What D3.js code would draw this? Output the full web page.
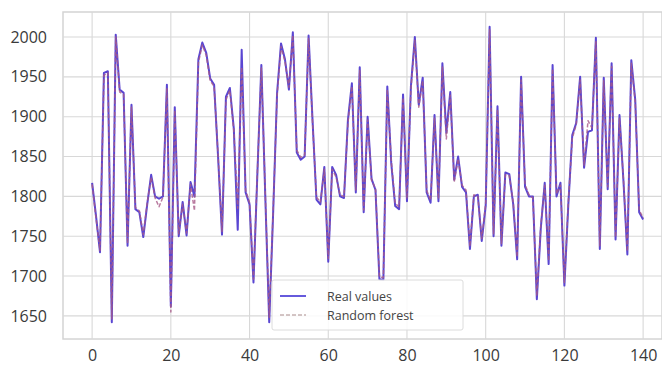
<!DOCTYPE html>
<html>
<head>
<meta charset="utf-8">
<script src="https://cdn.jsdelivr.net/npm/d3@7"></script>
<style>
  html, body { margin: 0; padding: 0; background: #ffffff; }
  svg { display: block; }
  .tick text { font-family: "Open Sans", "DejaVu Sans", sans-serif; }
</style>
</head>
<body>
<svg id="chart" width="662" height="368"></svg>
<script>
// Observed series (index 0..140)
const realValues = [
  1817, 1775, 1730, 1955, 1957, 1642, 2003, 1934, 1930, 1738,
  1915, 1784, 1780, 1749, 1790, 1827, 1800, 1797, 1800, 1940,
  1662, 1912, 1750, 1793, 1751, 1818, 1800, 1972, 1993, 1980,
  1948, 1940, 1850, 1752, 1925, 1936, 1885, 1758, 1984, 1805,
  1790, 1692, 1830, 1965, 1800, 1642, 1780, 1930, 1992, 1972,
  1934, 2006, 1855, 1846, 1850, 2002, 1896, 1796, 1790, 1837,
  1718, 1837, 1827, 1800, 1798, 1896, 1942, 1805, 1962, 1780,
  1900, 1822, 1808, 1696, 1695, 1938, 1842, 1788, 1784, 1928,
  1794, 1938, 2000, 1915, 1949, 1805, 1792, 1902, 1794, 1967,
  1880, 1931, 1821, 1850, 1812, 1805, 1734, 1800, 1802, 1744,
  1788, 2013, 1750, 1913, 1738, 1830, 1828, 1790, 1721, 1950,
  1812, 1800, 1800, 1671, 1760, 1817, 1715, 1965, 1800, 1817,
  1688, 1790, 1877, 1892, 1950, 1836, 1881, 1883, 1999, 1734,
  1949, 1809, 1967, 1746, 1902, 1820, 1727, 1971, 1921, 1780,
  1771
];

// Random forest predictions (index 0..140)
const forestValues = [
  1815, 1772, 1732, 1952, 1955, 1646, 2000, 1931, 1928, 1741,
  1912, 1786, 1782, 1752, 1792, 1824, 1798, 1787, 1799, 1936,
  1655, 1908, 1753, 1790, 1754, 1815, 1782, 1968, 1990, 1977,
  1945, 1938, 1852, 1756, 1921, 1933, 1882, 1785, 1962, 1808,
  1792, 1696, 1832, 1961, 1803, 1648, 1783, 1926, 1988, 1969,
  1937, 2002, 1858, 1849, 1852, 1998, 1893, 1799, 1793, 1834,
  1722, 1834, 1824, 1802, 1800, 1892, 1938, 1808, 1958, 1783,
  1896, 1820, 1810, 1699, 1698, 1934, 1845, 1791, 1787, 1924,
  1797, 1934, 1996, 1912, 1945, 1808, 1795, 1898, 1797, 1963,
  1872, 1927, 1818, 1847, 1814, 1808, 1737, 1802, 1800, 1747,
  1791, 2009, 1753, 1909, 1741, 1827, 1826, 1792, 1724, 1946,
  1815, 1802, 1798, 1675, 1763, 1814, 1719, 1960, 1803, 1814,
  1692, 1793, 1873, 1890, 1946, 1839, 1895, 1886, 1995, 1738,
  1945, 1812, 1963, 1749, 1898, 1822, 1731, 1967, 1918, 1783,
  1773
];

const xTicks = [0, 20, 40, 60, 80, 100, 120, 140];
const yTicks = [1650, 1700, 1750, 1800, 1850, 1900, 1950, 2000];
const seriesNames = ["Real values", "Random forest"];

const svg = d3.select("#chart");
const plot = { left: 63, right: 662, top: 12, bottom: 339 };

const x = d3.scaleLinear().domain([-7.4, 144.8]).range([plot.left, plot.right]);
const y = d3.scaleLinear().domain([1621, 2031.4]).range([plot.bottom, plot.top]);

// plot frame
svg.append("rect")
  .attr("x", plot.left).attr("y", plot.top)
  .attr("width", plot.right - plot.left).attr("height", plot.bottom - plot.top)
  .attr("fill", "#ffffff").attr("stroke", "#d4d4d4").attr("stroke-width", 1.5);

// grid lines
const grid = svg.append("g").attr("stroke", "#d8d8d8").attr("stroke-width", 1.1);
grid.selectAll("line.gy").data(yTicks).join("line")
  .attr("x1", plot.left).attr("x2", plot.right)
  .attr("y1", d => y(d)).attr("y2", d => y(d));
grid.selectAll("line.gx").data(xTicks).join("line")
  .attr("y1", plot.top).attr("y2", plot.bottom)
  .attr("x1", d => x(d)).attr("x2", d => x(d));

// axes
const xAxis = svg.append("g")
  .attr("transform", `translate(0,${plot.bottom})`)
  .call(d3.axisBottom(x).tickValues(xTicks).tickFormat(d3.format("d")).tickSize(0).tickPadding(11));
const yAxis = svg.append("g")
  .attr("transform", `translate(${plot.left},0)`)
  .call(d3.axisLeft(y).tickValues(yTicks).tickFormat(d3.format("d")).tickSize(0).tickPadding(16));
[xAxis, yAxis].forEach(a => {
  a.select(".domain").remove();
  a.selectAll("text").attr("font-size", 16).attr("fill", "#3a3a3a");
});

// series lines
svg.append("clipPath").attr("id", "plotclip").append("rect")
  .attr("x", plot.left).attr("y", plot.top)
  .attr("width", plot.right - plot.left).attr("height", plot.bottom - plot.top);

const line = d3.line().x((d, i) => x(i)).y(d => y(d));
const lines = svg.append("g").attr("clip-path", "url(#plotclip)");

lines.append("path").datum(realValues)
  .attr("d", line).attr("fill", "none")
  .attr("stroke", "#5a46d2").attr("stroke-width", 2)
  .attr("stroke-linejoin", "round");

lines.append("path").datum(forestValues)
  .attr("d", line).attr("fill", "none")
  .attr("stroke", "#a85a88").attr("stroke-width", 1.5)
  .attr("stroke-dasharray", "4,2").attr("stroke-opacity", 0.8)
  .attr("stroke-linejoin", "round");

// legend
const legend = svg.append("g");
legend.append("rect")
  .attr("x", 272).attr("y", 280).attr("width", 191).attr("height", 50)
  .attr("fill", "#ffffff").attr("fill-opacity", 0.85)
  .attr("stroke", "#dcdcdc").attr("stroke-width", 1).attr("rx", 2);

const legendStyles = [
  { stroke: "#5548d8", width: 1.8, dash: null, opacity: 1 },
  { stroke: "#a08080", width: 1.2, dash: "4,2", opacity: 0.9 }
];
seriesNames.forEach((name, i) => {
  const cy = 296 + i * 19;
  legend.append("line")
    .attr("x1", 280).attr("x2", 306).attr("y1", cy).attr("y2", cy)
    .attr("stroke", legendStyles[i].stroke)
    .attr("stroke-width", legendStyles[i].width)
    .attr("stroke-opacity", legendStyles[i].opacity)
    .attr("stroke-dasharray", legendStyles[i].dash);
  legend.append("text")
    .attr("x", 327).attr("y", cy + 4.5)
    .attr("font-family", "Open Sans, DejaVu Sans, sans-serif")
    .attr("font-size", 12.5).attr("fill", "#444")
    .text(name);
});
</script>
</body>
</html>
